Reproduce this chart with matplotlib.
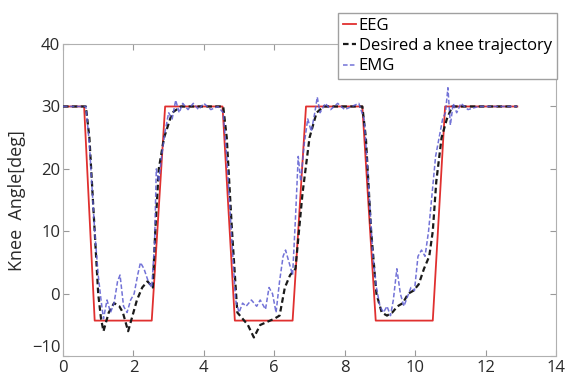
import matplotlib
matplotlib.use("Agg")
import matplotlib.pyplot as plt

# EEG (red, trapezoid)
eeg_t = [0, 0.6, 0.9, 2.52, 2.9, 4.53, 4.88, 6.52, 6.9, 8.5, 8.88, 10.5, 10.85, 12.9]
eeg_v = [30, 30, -4.3, -4.3, 30, 30, -4.3, -4.3, 30, 30, -4.3, -4.3, 30, 30]

# Desired knee trajectory (black dashed)
des_t = [0, 0.65, 0.75, 0.9, 1.0, 1.08, 1.15, 1.3, 1.45, 1.6, 1.7, 1.85, 1.95, 2.1,
         2.25, 2.4, 2.55, 2.62, 2.72, 2.87, 3.1, 3.35, 3.6, 4.0, 4.55, 4.65, 4.8,
         4.95, 5.1, 5.25, 5.42, 5.6, 5.8, 6.0, 6.15, 6.3, 6.45, 6.6, 6.8, 7.0, 7.2,
         7.4, 8.0, 8.5, 8.6, 8.75, 8.9, 9.05, 9.2, 9.35, 9.5, 9.65, 9.8, 9.95, 10.1,
         10.25, 10.4, 10.5, 10.6, 10.75, 10.9, 11.05, 12.9]
des_v = [30, 30, 25, 10, 0, -4, -6, -3, -1.5, -2, -3, -6, -4, -1,
         1, 2, 1, 10, 20, 25, 29, 30, 30, 30, 30, 25, 10,
         -3, -4, -5, -7, -5, -4.5, -4, -3.5, 1, 3, 4, 16, 25, 29,
         30, 30, 30, 25, 10, 0, -3, -3.5, -3, -2, -1.5, 0, 0.5, 1.5,
         4, 6, 10, 18, 25, 28, 30, 30]

# EMG (blue dashed)
emg_t = [0, 0.65, 0.75, 0.9, 1.0, 1.08, 1.15, 1.25, 1.35, 1.45, 1.55, 1.62, 1.72,
         1.82, 1.92, 2.02, 2.12, 2.2, 2.3, 2.42, 2.52, 2.6, 2.65, 2.72, 2.8, 2.9,
         3.0, 3.1, 3.2, 3.3, 3.4, 3.55, 3.7, 3.85, 4.0, 4.2, 4.4, 4.55, 4.65, 4.8,
         4.9, 5.0, 5.1, 5.2, 5.35, 5.5, 5.6, 5.75, 5.85, 5.95, 6.05, 6.15, 6.25,
         6.32, 6.42, 6.52, 6.6, 6.68, 6.75, 6.85, 6.95, 7.05, 7.15, 7.22, 7.3,
         7.45, 7.6, 7.8, 8.0, 8.2, 8.4, 8.55, 8.65, 8.8, 8.9, 9.0, 9.1, 9.2, 9.3,
         9.38, 9.48, 9.58, 9.68, 9.78, 9.88, 9.98, 10.08, 10.18, 10.28, 10.38,
         10.48, 10.58, 10.68, 10.78, 10.86, 10.93, 11.0, 11.08, 11.18, 11.3, 11.5,
         11.8, 12.2, 12.9]
emg_v = [30, 30, 24, 10, 3, -1, -4, -1, -3, -1.5, 2, 3, -2,
         -3, -1, 0, 3, 5, 4, 2, 1, 8, 20, 18, 22, 26,
         29, 28, 31, 29, 30.5, 29.5, 30.5, 29.5, 30.5, 29.5, 30, 29, 22, 8,
         -1, -3, -1.5, -2, -1, -2, -1, -2.5, 1, 0, -3, 2, 6,
         7, 5, 3, 12, 22, 18, 24, 28, 26, 29, 31.5, 29,
         30.5, 29.5, 30.5, 29.5, 30, 30.5, 28, 20, 6, 1, -2, -3, -2, -3.5,
         -1, 4, 0, -2, -0.5, 1, 0.5, 6, 7, 6, 10,
         16, 22, 25, 28, 29, 33, 27, 30.5, 29, 30.5, 29.5,
         30, 30, 30]

x_ticks = [0, 2, 4, 6, 8, 10, 12, 14]
y_ticks = [-10, 0, 10, 20, 30, 40]

plt.rcParams["font.family"] = ["Open Sans", "DejaVu Sans"]

fig = plt.figure(figsize=(5.7, 3.83), dpi=100)
ax = fig.add_axes([0.1105, 0.07, 0.865, 0.815])

ax.plot(eeg_t, eeg_v, color="#e0302f", lw=1.3, label="EEG", zorder=2)
ax.plot(des_t, des_v, color="#1a1a1a", lw=1.6, dashes=(2.5, 1.5), label="Desired a knee trajectory", zorder=3)
ax.plot(emg_t, emg_v, color="#5a5ad0", lw=1.1, dashes=(3, 1.5), alpha=0.85, label="EMG", zorder=4)

ax.set_xlim(0, 14)
ax.set_ylim(-10, 40)
ax.set_xticks(x_ticks)
ax.set_yticks(y_ticks)
ax.tick_params(direction="in", top=True, right=True, colors="#999999", labelcolor="#2a2a2a",
               labelsize=12, length=4)
ax.tick_params(axis="x", pad=3)
ax.tick_params(axis="y", pad=2)
# lift the lowest y label a touch so it clears the x-axis "0"
ax.get_yticklabels()[0].set_verticalalignment("bottom")
for s in ax.spines.values():
    s.set_color("#b0b0b0")
ax.set_ylabel("Knee  Angle[deg]", fontsize=13, color="#2a2a2a", labelpad=4)

leg = ax.legend(loc="upper right", bbox_to_anchor=(0.977, 0.966), bbox_transform=fig.transFigure,
                fontsize=12, handlelength=0.8, handletextpad=0.15, borderpad=0.3,
                labelspacing=0.25, fancybox=False, framealpha=1, borderaxespad=0)
leg.get_frame().set_edgecolor("#a0a0a0")
leg.get_frame().set_linewidth(1.0)

fig.savefig("out.png", dpi=100)
